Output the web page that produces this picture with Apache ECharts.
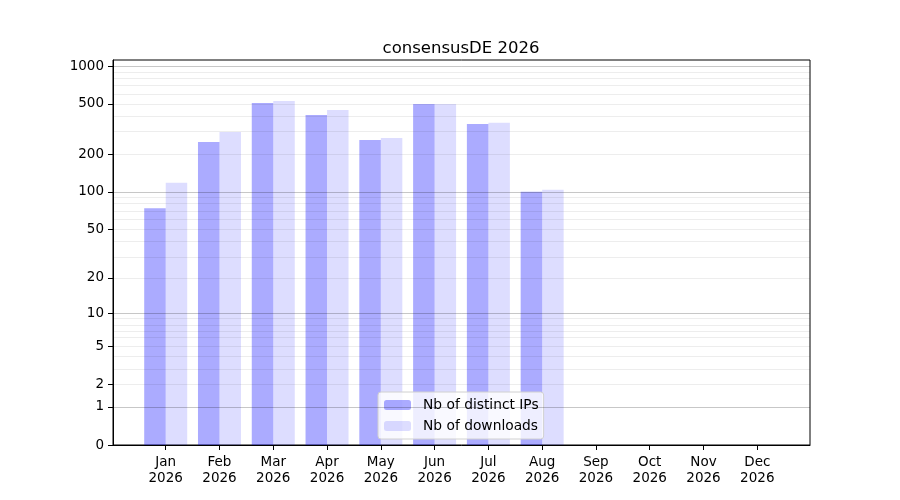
<!DOCTYPE html>
<html>
<head>
<meta charset="utf-8">
<script src="https://cdn.jsdelivr.net/npm/echarts@6/dist/echarts.min.js"></script>
<style>
  html, body { margin: 0; padding: 0; background: #fff; }
  #chart { width: 900px; height: 500px; }
</style>
</head>
<body>
<div id="chart"></div>
<script>
var months = ['Jan', 'Feb', 'Mar', 'Apr', 'May', 'Jun', 'Jul', 'Aug', 'Sep', 'Oct', 'Nov', 'Dec'];
var year = '2026';
var distinctIPs = [74, 250, 509, 409, 259, 500, 347, 100];
var downloads = [118, 300, 528, 448, 269, 500, 354, 104];
var yTicks = [0, 1, 2, 5, 10, 20, 50, 100, 200, 500, 1000];
var majorLines = [1, 10, 100, 1000];
var minorLines = [2, 3, 4, 5, 6, 7, 8, 9, 20, 30, 40, 50, 60, 70, 80, 90, 200, 300, 400, 500, 600, 700, 800, 900];

// y scale is log10(v + 1)
function fwd(v) { return Math.log10(v + 1); }
function inv(t) { return Math.round(Math.pow(10, t) - 1); }

var font = 'DejaVu Sans';
var myChart = echarts.init(document.getElementById('chart'));

var gridLines = [];
minorLines.forEach(function (v) {
    gridLines.push({ yAxis: fwd(v), lineStyle: { color: 'rgba(0,0,0,0.07)', width: 1, type: 'solid' } });
});
majorLines.forEach(function (v) {
    gridLines.push({ yAxis: fwd(v), lineStyle: { color: 'rgba(0,0,0,0.22)', width: 1, type: 'solid' } });
});

option = {
    animation: false,
    textStyle: { fontFamily: font },
    title: {
        text: 'consensusDE ' + year,
        left: 456,
        top: 35,
        textAlign: 'center',
        textStyle: { fontFamily: font, fontSize: 16.5, fontWeight: 'normal', color: '#000' }
    },
    legend: {
        orient: 'vertical',
        left: 378,
        top: 392,
        itemWidth: 27,
        itemHeight: 10,
        itemGap: 7,
        padding: [6, 5, 6, 6],
        backgroundColor: 'rgba(255,255,255,0.8)',
        borderColor: '#d0d0d0',
        borderWidth: 1,
        borderRadius: 3,
        textStyle: { fontFamily: font, fontSize: 13.8, color: '#000', padding: [0, 0, 0, 7] },
        data: ['Nb of distinct IPs', 'Nb of downloads']
    },
    grid: {
        left: 113, right: 90, top: 60, bottom: 55,
        show: true, borderColor: '#000', borderWidth: 1
    },
    xAxis: {
        type: 'value',
        min: -0.98,
        max: 11.98,
        splitLine: { show: false },
        axisLine: { show: true, onZero: false, lineStyle: { color: '#000' } },
        axisTick: {
            show: true, length: 5, lineStyle: { color: '#000' },
            customValues: months.map(function (m, i) { return i; })
        },
        axisLabel: {
            customValues: months.map(function (m, i) { return i; }),
            formatter: function (v) { return months[Math.round(v)] + '\n' + year; },
            fontFamily: font, fontSize: 13.5, color: '#000', margin: 9, lineHeight: 16
        }
    },
    yAxis: {
        type: 'value',
        min: 0,
        max: 3.048,
        splitLine: { show: false },
        axisLine: { show: true, onZero: false, lineStyle: { color: '#000' } },
        axisTick: {
            show: true, length: 5, lineStyle: { color: '#000' },
            customValues: yTicks.map(fwd)
        },
        axisLabel: {
            customValues: yTicks.map(fwd),
            formatter: function (t) { return String(inv(t)); },
            fontFamily: font, fontSize: 13.5, color: '#000', margin: 9
        }
    },
    series: [
        {
            name: 'Nb of distinct IPs',
            type: 'bar',
            barWidth: 21.5,
            barGap: '-100%',
            itemStyle: { color: 'rgba(0,0,255,0.33)' },
            data: distinctIPs.map(function (v, i) { return [i - 0.2, fwd(v)]; }),
            markLine: {
                silent: true,
                symbol: 'none',
                label: { show: false },
                animation: false,
                data: gridLines
            }
        },
        {
            name: 'Nb of downloads',
            type: 'bar',
            barWidth: 21.5,
            barGap: '-100%',
            itemStyle: { color: 'rgba(0,0,255,0.135)' },
            data: downloads.map(function (v, i) { return [i + 0.2, fwd(v)]; })
        }
    ]
};

myChart.setOption(option);
</script>
</body>
</html>
